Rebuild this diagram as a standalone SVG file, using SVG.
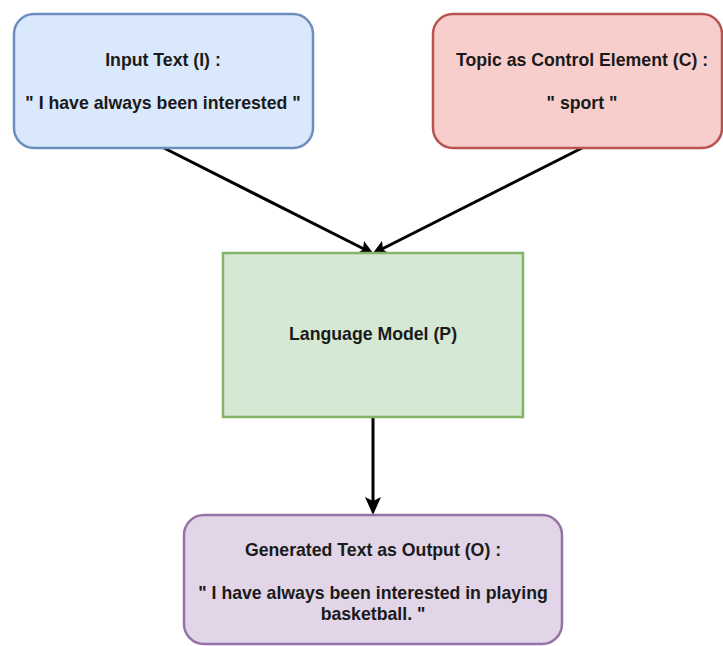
<svg xmlns="http://www.w3.org/2000/svg" width="723" height="646" viewBox="0 0 723 646">
<style>
text{font-family:"Liberation Sans",Arial,sans-serif;font-weight:bold;font-size:17.7px;fill:#1a1a1a;text-anchor:middle}
.n{stroke-width:2.5}
.e{stroke:#000;stroke-width:3;fill:none}
.h{fill:#000}
</style>
<rect width="723" height="646" fill="#fff"/>
<g id="connectors">
<path class="e" d="M164,148 L366,250"/>
<path class="h" d="M373,253 L356,254 L363,249.5 L364,241 Z"/>
<path class="e" d="M582,148 L380,250"/>
<path class="h" d="M373,253 L382,241 L383,249.5 L390,254 Z"/>
<path class="e" d="M373,417 L373,503"/>
<path class="h" d="M373,515 L365,497 L373,501 L381,497 Z"/>
</g>
<g id="input">
<rect class="n" x="14" y="14" width="299" height="134" rx="20" fill="#dae8fc" stroke="#6c8ebf"/>
<text x="163" y="66">Input Text (I) :</text>
<text x="163" y="109">" I have always been interested "</text>
</g>
<g id="topic">
<rect class="n" x="433" y="14" width="289" height="134" rx="20" fill="#f8cecc" stroke="#b85450"/>
<text x="582" y="66">Topic as Control Element (C) :</text>
<text x="582" y="109">" sport "</text>
</g>
<g id="model">
<rect class="n" x="223" y="253" width="300" height="164" fill="#d5e8d4" stroke="#82b366"/>
<text x="373" y="340">Language Model (P)</text>
</g>
<g id="output">
<rect class="n" x="184" y="515" width="378" height="129" rx="20" fill="#e1d5e7" stroke="#9673a6"/>
<text x="373" y="556">Generated Text as Output (O) :</text>
<text x="373" y="599">" I have always been interested in playing</text>
<text x="373" y="620">basketball. "</text>
</g>
</svg>
